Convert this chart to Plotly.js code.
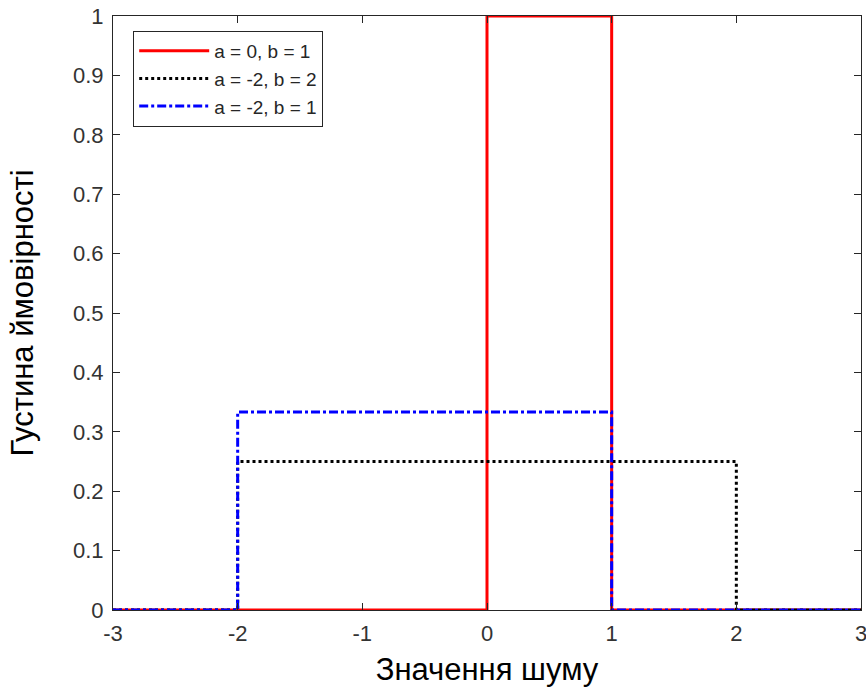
<!DOCTYPE html>
<html>
<head>
<meta charset="utf-8">
<script src="https://cdn.plot.ly/plotly-3.0.1.min.js"></script>
<style>html,body{margin:0;padding:0;background:#fff;}</style>
</head>
<body>
<div id="chart" style="width:866px;height:692px;"></div>
<script>
const seriesNames = ["a = 0, b = 1", "a = -2, b = 2", "a = -2, b = 1"];
const x1 = [-3, 0, 0, 1, 1, 3];
const y1 = [0, 0, 1, 1, 0, 0];
const x2 = [-3, -2, -2, 2, 2, 3];
const y2 = [0, 0, 0.25, 0.25, 0, 0];
const x3 = [-3, -2, -2, 1, 1, 3];
const y3 = [0, 0, 1/3, 1/3, 0, 0];
const xTicks = [-3, -2, -1, 0, 1, 2, 3];
const yTicks = [0, 0.1, 0.2, 0.3, 0.4, 0.5, 0.6, 0.7, 0.8, 0.9, 1];
const yTickText = ["0", "0.1", "0.2", "0.3", "0.4", "0.5", "0.6", "0.7", "0.8", "0.9", "1"];

const FONT = "Liberation Sans, Arial, sans-serif";

const traces = [
  {x: x1, y: y1, name: seriesNames[0], mode: "lines", line: {color: "#ff0000", width: 3, dash: "solid"}},
  {x: x2, y: y2, name: seriesNames[1], mode: "lines", line: {color: "#000000", width: 3, dash: "dot"}},
  {x: x3, y: y3, name: seriesNames[2], mode: "lines", line: {color: "#0000ff", width: 3, dash: "dashdot"}}
];

const axisCommon = {
  showgrid: false, zeroline: false, showline: true, mirror: "ticks",
  linecolor: "#262626", linewidth: 1, ticks: "inside", ticklen: 7, tickwidth: 1,
  tickcolor: "#262626", tickfont: {family: FONT, size: 22, color: "#333333"},
  ticklabeloverflow: "allow"
};

const layout = {
  width: 866, height: 692,
  margin: {l: 113, r: 5, t: 16, b: 82},
  paper_bgcolor: "#fff", plot_bgcolor: "#fff",
  showlegend: true,
  legend: {
    x: 0.027, y: 0.975, xanchor: "left", yanchor: "top",
    bgcolor: "#fff", bordercolor: "#262626", borderwidth: 1,
    font: {family: FONT, size: 19, color: "#262626"},
    itemwidth: 70, tracegroupgap: 0
  },
  xaxis: Object.assign({}, axisCommon, {
    range: [-3, 3], tickvals: xTicks, ticktext: xTicks.map(String),
    ticklabelstandoff: 4,
    title: {text: "Значення шуму", font: {family: FONT, size: 31, color: "#000"}, standoff: 12}
  }),
  yaxis: Object.assign({}, axisCommon, {
    range: [0, 1], tickvals: yTicks, ticktext: yTickText,
    ticklabelstandoff: 4,
    title: {text: "Густина ймовірності", font: {family: FONT, size: 31, color: "#000"}, standoff: 30}
  })
};

Plotly.newPlot("chart", traces, layout, {displayModeBar: false, staticPlot: true});
</script>
</body>
</html>
